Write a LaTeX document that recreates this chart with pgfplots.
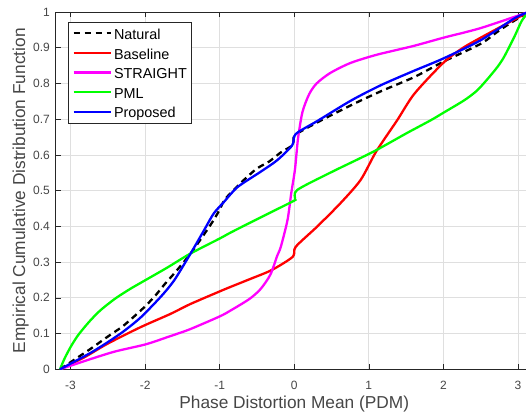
\documentclass[border=0pt]{standalone}
\usepackage{fontspec}
\setmainfont{Liberation Sans}
\usepackage{pgfplots}
\pgfplotsset{compat=1.18}
\definecolor{axgray}{RGB}{38,38,38}
\definecolor{tickgray}{RGB}{70,70,70}
\definecolor{gridgray}{RGB}{223,223,223}
\definecolor{mred}{RGB}{255,0,0}
\definecolor{mgreen}{RGB}{0,255,0}
\definecolor{mblue}{RGB}{0,0,255}
\definecolor{mmag}{RGB}{255,0,255}
\begin{document}
\begin{tikzpicture}
\begin{axis}[
  scale only axis,
  width=477.3pt, height=357.3pt,
  xmin=-3.2, xmax=3.2, ymin=0, ymax=1,
  xtick={-3,-2,-1,0,1,2,3},
  xticklabels={-3,-2,-1,0,1,2,3},
  ytick={0,0.1,0.2,0.3,0.4,0.5,0.6,0.7,0.8,0.9,1},
  yticklabels={0,0.1,0.2,0.3,0.4,0.5,0.6,0.7,0.8,0.9,1},
  tick align=inside, tick pos=both,
  major tick length=5pt,
  every tick/.style={axgray, line width=0.6pt},
  axis line style={axgray, line width=0.9pt},
  grid=major,
  major grid style={gridgray, line width=0.7pt},
  ticklabel style={font=\fontsize{12}{14}\selectfont, text=tickgray, inner sep=0pt},
  xticklabel style={anchor=north, yshift=-11.7pt},
  yticklabel style={anchor=east, xshift=-5.6pt},
  xlabel={Phase Distortion Mean (PDM)},
  ylabel={Empirical Cumulative Distribution Function},
  label style={font=\fontsize{17.3}{20}\selectfont, text=tickgray, inner sep=0pt},
  xlabel style={at={(axis description cs:0.5,-0.1097)}, anchor=base},
  ylabel style={at={(axis description cs:-0.0641,0.5)}, anchor=base},
  legend cell align=left,
  legend image code/.code={\draw[#1] (0pt,0pt) -- (37pt,0pt);},
  legend style={
    at={(axis description cs:0.026,0.973)}, anchor=north west,
    draw=axgray, line width=0.7pt, fill=white,
    font=\fontsize{14.4}{17}\selectfont,
    inner xsep=4pt, inner ysep=3.6pt,
    row sep=4.1pt,
    nodes={inner sep=0pt, text height=14pt, text depth=1.5pt},
    /tikz/every odd column/.append style={column sep=2.4pt},
  },
  every axis plot/.append style={line width=2.3pt, smooth, tension=0.45},
]
\coordinate (bl) at (rel axis cs:0,0);

\addplot[black, dash pattern=on 6.5pt off 4.5pt] coordinates {
 (-3.1416,0) (-2.92,0.031) (-2.74,0.056) (-2.47,0.096) (-2.29,0.122)
 (-2.02,0.172) (-1.86,0.207) (-1.73,0.240) (-1.59,0.273) (-1.39,0.324)
 (-1.12,0.405) (-1.01,0.443) (-0.92,0.478) (-0.68,0.529) (-0.50,0.562)
 (-0.34,0.581) (-0.18,0.607) (-0.02,0.628) (0.01,0.655) (0.3,0.690)
 (0.77,0.740) (1.16,0.778) (1.61,0.818) (2.0,0.861) (2.5,0.911)
 (2.72,0.944) (2.90,0.969) (3.1416,1)
};
\addlegendentry{Natural}

\addplot[mred] coordinates {
 (-3.1416,0) (-2.82,0.033) (-2.5,0.072) (-2.06,0.118) (-1.66,0.155)
 (-1.40,0.182) (-1.0,0.218) (-0.85,0.231) (-0.6,0.252) (-0.3,0.278)
 (-0.02,0.315) (0.02,0.343) (0.31,0.400) (0.62,0.465) (0.89,0.530)
 (1.10,0.610) (1.38,0.697) (1.61,0.771) (2.0,0.858) (2.28,0.902)
 (2.72,0.953) (3.1416,1)
};
\addlegendentry{Baseline}

\addplot[mmag] coordinates {
 (-3.1416,0) (-2.74,0.028) (-2.4,0.050) (-1.99,0.070) (-1.66,0.093)
 (-1.40,0.112) (-1.0,0.148) (-0.85,0.165) (-0.6,0.197) (-0.45,0.225)
 (-0.32,0.265) (-0.23,0.317) (-0.18,0.343) (-0.09,0.418) (-0.04,0.493)
 (0.01,0.560) (0.05,0.645) (0.11,0.720) (0.2,0.770) (0.3,0.800)
 (0.48,0.829) (0.75,0.857) (1.10,0.880) (1.60,0.905) (2.0,0.928)
 (2.5,0.955) (3.1416,1)
};
\addlegendentry{STRAIGHT}

\addplot[mgreen] coordinates {
 (-3.1416,0) (-3.08,0.030) (-3.0,0.062) (-2.9,0.095) (-2.75,0.133)
 (-2.6,0.165) (-2.4,0.198) (-2.2,0.225) (-2.0,0.249) (-1.7,0.285)
 (-1.4,0.323) (-1.0,0.366) (-0.85,0.383) (-0.5,0.420) (-0.02,0.470)
 (0.01,0.476) (0.04,0.502) (0.5,0.552) (1.06,0.609) (1.5,0.660)
 (1.83,0.697) (2.0,0.718) (2.28,0.753) (2.45,0.780) (2.59,0.812)
 (2.72,0.845) (2.81,0.873) (2.95,0.930) (3.05,0.975) (3.1416,1)
};
\addlegendentry{PML}

\addplot[mblue] coordinates {
 (-3.1416,0) (-2.74,0.045) (-2.5,0.076) (-2.29,0.106) (-2.06,0.145)
 (-1.79,0.203) (-1.61,0.249) (-1.39,0.324) (-1.21,0.389) (-1.08,0.436)
 (-0.94,0.469) (-0.76,0.510) (-0.45,0.553) (-0.23,0.585) (-0.03,0.626)
 (0.0,0.652) (0.06,0.665) (0.31,0.695) (0.76,0.752) (1.16,0.795)
 (1.60,0.835) (2.0,0.870) (2.5,0.921) (2.95,0.982) (3.1416,1)
};
\addlegendentry{Proposed}
\end{axis}
\pgfresetboundingbox
\path[use as bounding box] (bl) ++(-55.6pt,-42.7pt) rectangle ++(526pt,412pt);
\end{tikzpicture}
\end{document}
